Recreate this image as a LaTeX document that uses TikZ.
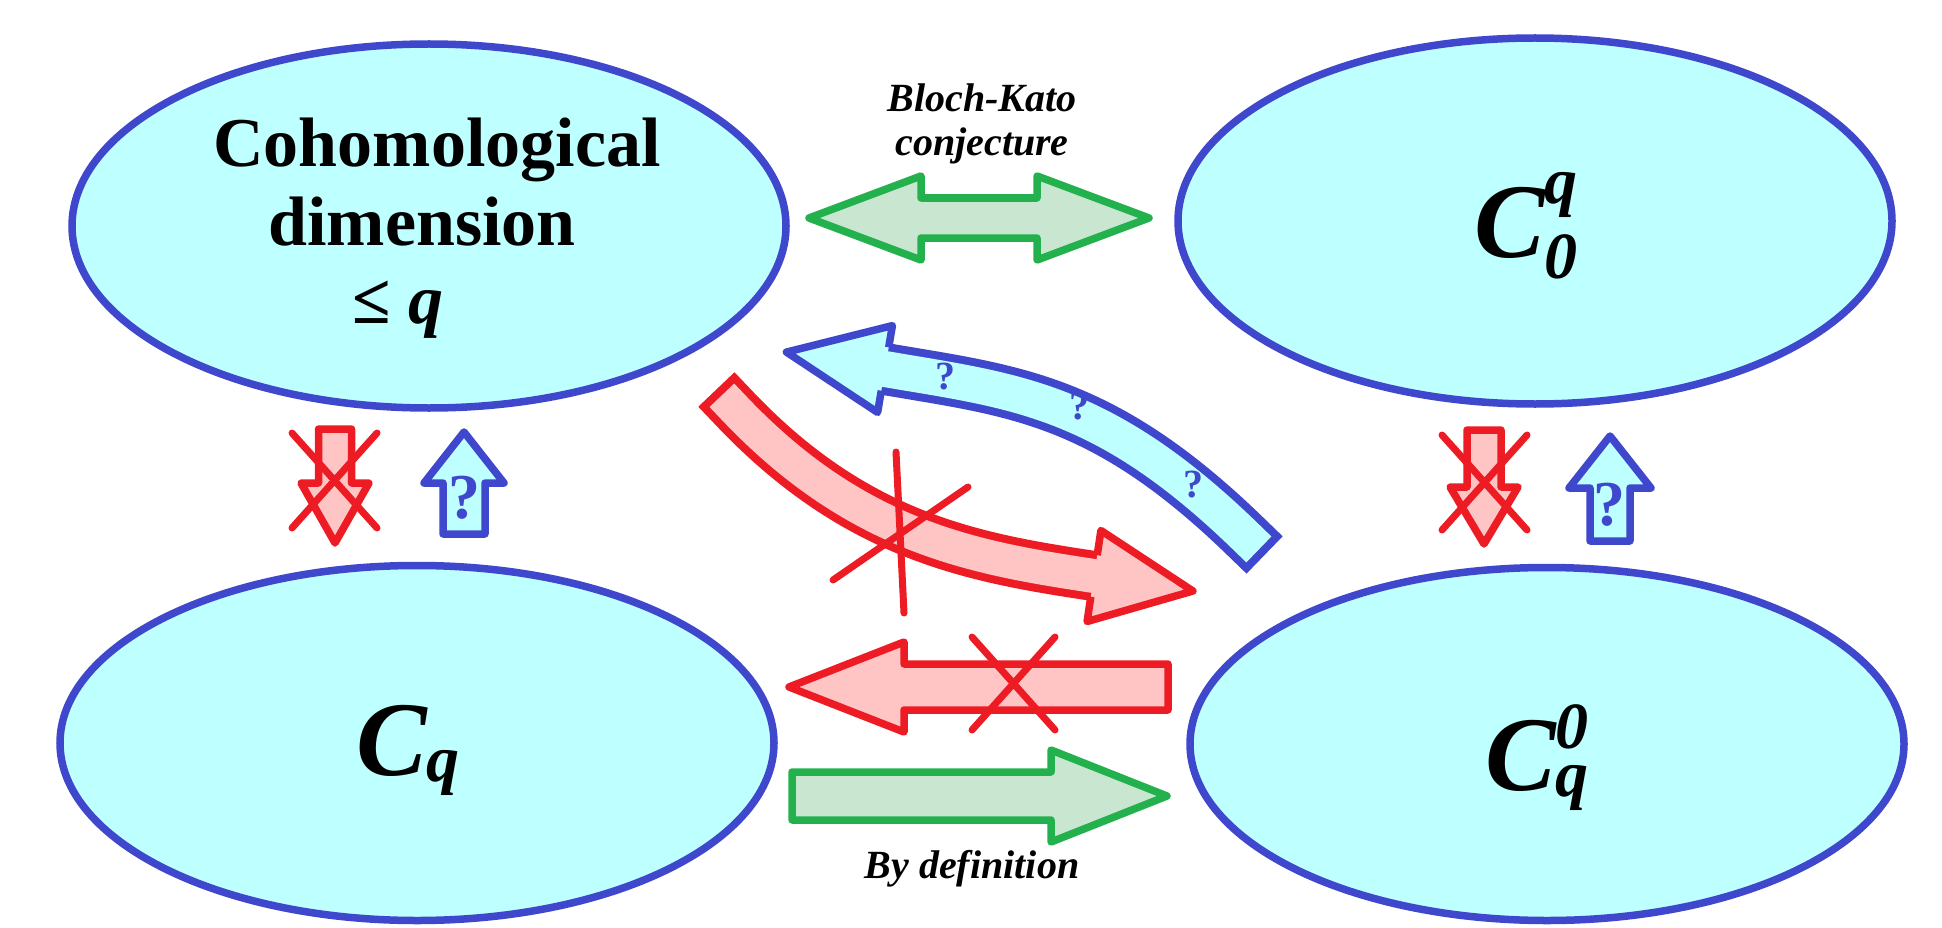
\documentclass[tikz,border=0pt]{standalone}
\usepackage{fontspec}
\setmainfont{Liberation Serif}
\usetikzlibrary{shapes.geometric,calc}
\definecolor{eblue}{RGB}{63,72,204}
\definecolor{ecyan}{RGB}{190,255,255}
\definecolor{ared}{RGB}{237,28,36}
\definecolor{lred}{RGB}{255,196,196}
\definecolor{agreen}{RGB}{34,177,76}
\definecolor{lgreen}{RGB}{200,230,208}
\newcommand\smallit{\fontsize{66}{66}\selectfont\bfseries\itshape}
\newcommand\bigC{{\fontsize{106}{106}\selectfont\bfseries\itshape C}}
% #1 style, #2 start, #3 end, #4 shaft half width, #5 head half width, #6 head length
\newcommand\fatarrow[6]{%
  \coordinate (#2-p) at ($(#3)!#6!(#2)$);
  \filldraw[#1] ($(#2)!#4!90:(#3)$) -- ($(#2-p)!#4!90:(#3)$) -- ($(#2-p)!#5!90:(#3)$)
    -- (#3) -- ($(#2-p)!#5!-90:(#3)$) -- ($(#2-p)!#4!-90:(#3)$) -- ($(#2)!#4!-90:(#3)$) -- cycle;
}
\tikzset{
  ell/.style={ellipse, draw=eblue, fill=ecyan, line width=7.5pt, inner sep=0pt, minimum width=714pt},
  greenarr/.style={draw=agreen, fill=lgreen, line width=7.5pt, line join=round},
  redarr/.style={draw=ared, fill=lred, line width=7.5pt, line join=round},
  bluearr/.style={draw=eblue, fill=ecyan, line width=7.5pt, line join=round},
  cross/.style={draw=ared, line width=7pt, line cap=round},
  bigtxt/.style={font=\fontsize{70}{78}\selectfont\bfseries, anchor=base, inner sep=0pt},
  lab/.style={font=\fontsize{40}{40}\selectfont\bfseries\itshape, anchor=base, inner sep=0pt},
  csym/.style={anchor=base west, inner sep=0pt},
  qsmall/.style={text=eblue, font=\fontsize{40}{40}\selectfont\bfseries, inner sep=0pt},
  qbig/.style={text=eblue, font=\fontsize{64}{64}\selectfont\bfseries, anchor=base, inner sep=0pt}
}
\begin{document}
\begin{tikzpicture}[x=1pt,y=-1pt]
\useasboundingbox (0,0) rectangle (1942,928);
% ellipses
\node[ell, minimum height=364pt] (tl) at (429,226) {};
\node[ell, minimum height=366pt] (tr) at (1535,221) {};
\node[ell, minimum height=355pt] (bl) at (417,743) {};
\node[ell, minimum height=353pt] (br) at (1547,744) {};
% texts in ellipses
\node[bigtxt] (coh1) at (437,167) {Cohomological};
\node[bigtxt] (coh2) at (422,245) {dimension};
\node[bigtxt] (coh3) at (398,323) {≤ \textit{q}};
\node[csym] (trl) at (1474,257) {\bigC\rlap{\smallit\raisebox{54pt}{q}}{\smallit\raisebox{-21pt}{0}}};
\node[csym] (brl) at (1485,790) {\bigC\rlap{\smallit\raisebox{42pt}{0}}{\smallit\raisebox{-6pt}{q}}};
\node[csym] (bll) at (356,775) {\bigC{\smallit\raisebox{-6pt}{q}}};
% Bloch-Kato double arrow
\filldraw[greenarr] (809,218) -- (921,176) -- (921,198) -- (1037,198) -- (1037,176) -- (1149,218)
  -- (1037,260) -- (1037,238) -- (921,238) -- (921,260) -- cycle;
\node[lab] (bk1) at (982,112) {Bloch-Kato};
\node[lab] (bk2) at (982,156) {conjecture};
% By definition arrow
\coordinate (bd-s) at (792,796);
\coordinate (bd-e) at (1167,796);
\fatarrow{greenarr}{bd-s}{bd-e}{24pt}{46pt}{116pt}
\node[lab] (bd) at (972,878) {By definition};
% red left arrow (crossed)
\coordinate (rl-s) at (1168,687);
\coordinate (rl-e) at (789,687);
\fatarrow{redarr}{rl-s}{rl-e}{23pt}{45pt}{115pt}
\draw[cross] (972,637) -- (1055,730);
\draw[cross] (1055,637) -- (972,730);
% vertical arrows left
\coordinate (lrd-s) at (335,429);
\coordinate (lrd-e) at (335,543);
\fatarrow{redarr}{lrd-s}{lrd-e}{16.5pt}{34pt}{60pt}
\draw[cross] (292,433) -- (377,528);
\draw[cross] (377,433) -- (292,528);
\coordinate (lbu-s) at (464,534);
\coordinate (lbu-e) at (464,432);
\fatarrow{bluearr}{lbu-s}{lbu-e}{21pt}{40pt}{51pt}
\node[qbig] (lq) at (464,518) {?};
% vertical arrows right
\coordinate (rrd-s) at (1484,430);
\coordinate (rrd-e) at (1484,544);
\fatarrow{redarr}{rrd-s}{rrd-e}{17pt}{34pt}{57pt}
\draw[cross] (1442,435) -- (1527,530);
\draw[cross] (1527,435) -- (1442,530);
\coordinate (rbu-s) at (1610,541);
\coordinate (rbu-e) at (1610,436);
\fatarrow{bluearr}{rbu-s}{rbu-e}{20pt}{41pt}{52pt}
\node[qbig] (rq) at (1609,525) {?};
% red curved arrow (crossed)
\coordinate (rc-s) at (733.6,407.6);
\coordinate (rc-e) at (1094,576);
\draw[ared, line width=50pt, line cap=rect] (rc-s) .. controls (857,538) and (975,558) .. (rc-e);
\draw[lred, line width=34pt, line cap=rect] (rc-s) .. controls (857,538) and (975,558) .. (rc-e);
\filldraw[redarr] (1097.2,555.2) -- (1100.9,530.5) -- (1192.9,591) -- (1087.1,621.5) -- (1090.8,596.8);
\draw[cross] (896,452) -- (904,613);
\draw[cross] (968,487) -- (833,580);
% blue curved arrow
\coordinate (bc-s) at (1245.9,536.9);
\coordinate (bc-e) at (885,369);
\draw[eblue, line width=52pt, line cap=rect] (bc-s) .. controls (1102.5,397.5) and (1013,391) .. (bc-e);
\draw[ecyan, line width=36pt, line cap=rect] (bc-s) .. controls (1102.5,397.5) and (1013,391) .. (bc-e);
\filldraw[bluearr] (888.7,347.3) -- (892.4,325.6) -- (786.4,352.1) -- (877.6,412.4) -- (881.3,390.7);
\node[qsmall] (q1) at (945,377) {?};
\node[qsmall] (q2) at (1079,407) {?};
\node[qsmall] (q3) at (1193,485) {?};
\end{tikzpicture}
\end{document}
